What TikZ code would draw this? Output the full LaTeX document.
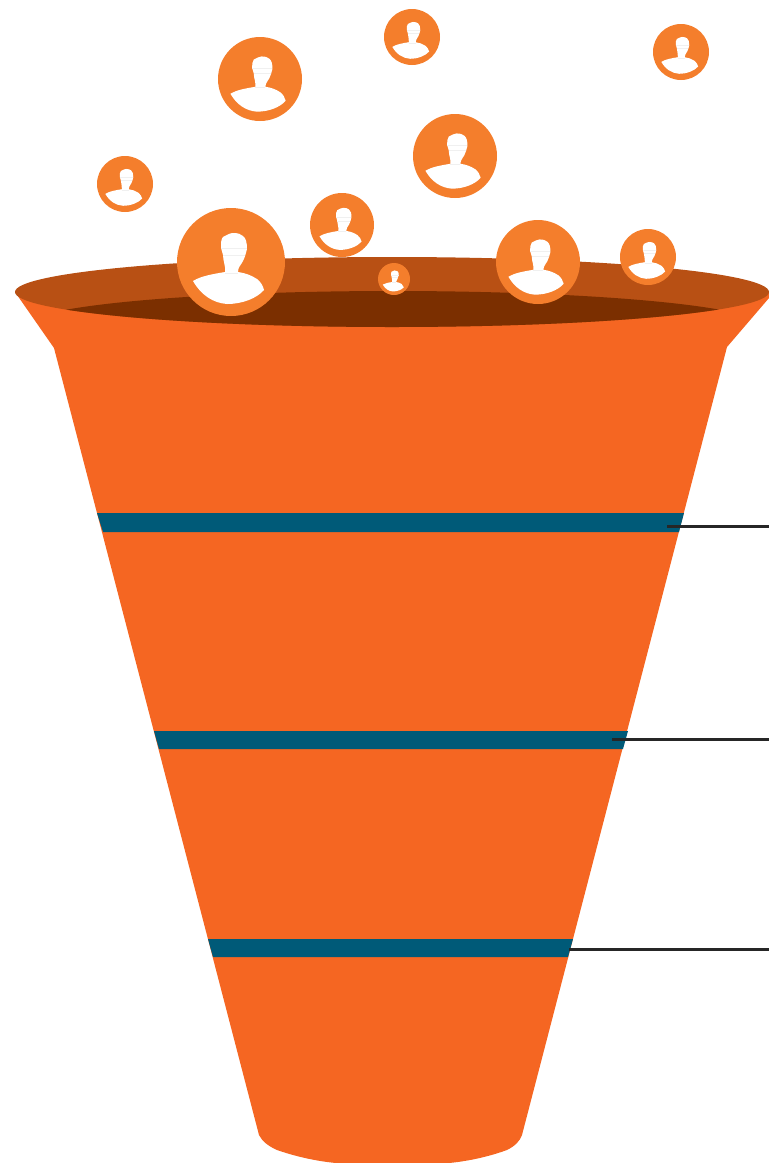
\documentclass[tikz,border=0pt]{standalone}
\usepackage{tikz}
\definecolor{funnelorange}{HTML}{F56622}
\definecolor{rimbrown}{HTML}{B85014}
\definecolor{rimdark}{HTML}{7B2F00}
\definecolor{bandblue}{HTML}{005A78}
\definecolor{bubbleorange}{HTML}{F47E2C}
\tikzset{
  bubble/.style={fill=bubbleorange},
  person/.style={fill=white},
  crease/.style={draw=black!6,line width=0.12pt},
  band/.style={fill=bandblue},
  leader/.style={line width=1.5pt,black!85}
}
\begin{document}
\begin{tikzpicture}[x=0.5pt,y=-0.5pt]
        \useasboundingbox (0,0) rectangle (769,1163);

        % funnel body
        \fill[funnelorange] (15,292) -- (54,348) -- (259,1135)
          .. controls (262,1141) and (268,1146) .. (277,1150)
          .. controls (300,1158) and (325,1163) .. (350,1164) -- (435,1164)
          .. controls (460,1163) and (485,1158) .. (507,1150)
          .. controls (515,1146) and (520,1141) .. (522,1135)
          -- (727,347) -- (769,298) -- (769,292) -- cycle;

        % rim
        \fill[rimbrown] (392,292) ellipse [x radius=377,y radius=35];
        \begin{scope}
          \clip (392,292) ellipse [x radius=377,y radius=35];
          \fill[rimdark] (393,326) ellipse [x radius=369,y radius=35];
        \end{scope}

        % bands
        \foreach \a/\b/\c/\d/\t/\u in {97/103/679/684/513/532, 154/159/623/628/731/749, 208/213/568/573/939/957} {
          \fill[band] (\a,\t) -- (\b,\u) -- (\c,\u) -- (\d,\t) -- cycle;
        }

        % leader lines
        \coordinate (leadA) at (667,526);
        \coordinate (leadB) at (612,739.5);
        \coordinate (leadC) at (569,949.5);
        \coordinate (endA) at (769,526);
        \coordinate (endB) at (769,739.5);
        \coordinate (endC) at (769,949.5);
        \draw[leader] (leadA) -- (endA);
        \draw[leader] (leadB) -- (endB);
        \draw[leader] (leadC) -- (endC);

        % people
        \foreach \x/\y/\r in {231/262/54, 260/79/42, 412/37/28, 681/52/28, 455/156/42, 125/184/28, 342/225/32, 394/279/16, 538/262/42, 648/257/28} {
          \begin{scope}[shift={(\x,\y)},scale=\r/54]
            \fill[bubble] (0,0) circle (54);
            \fill[person] (-10,-14) .. controls (-10,-19) and (-10,-23) .. (-8,-25)
              .. controls (-4,-27) and (-1,-29) .. (2,-29)
              .. controls (7,-29) and (10,-28) .. (12,-26)
              .. controls (15,-24) and (16,-19) .. (16,-13)
              .. controls (15,-9) and (14,-5) .. (12,-1)
              .. controls (10,3) and (7,5) .. (7,10)
              .. controls (14,11) and (20,13) .. (26,17)
              .. controls (30,20) and (32,24) .. (33,28)
              .. controls (26,36) and (12,42) .. (-4,42)
              .. controls (-18,41) and (-30,33) .. (-38,19)
              .. controls (-30,14) and (-18,12) .. (-6,10)
              .. controls (-5,5) and (-8,-1) .. (-8,-7) -- cycle;
            \draw[crease] (-10,-14) -- (16,-14);
            \draw[crease] (-8,-7) -- (14,-7);
            \draw[crease] (-6,11) -- (7,11);
          \end{scope}
        }
      \end{tikzpicture}
\end{document}
